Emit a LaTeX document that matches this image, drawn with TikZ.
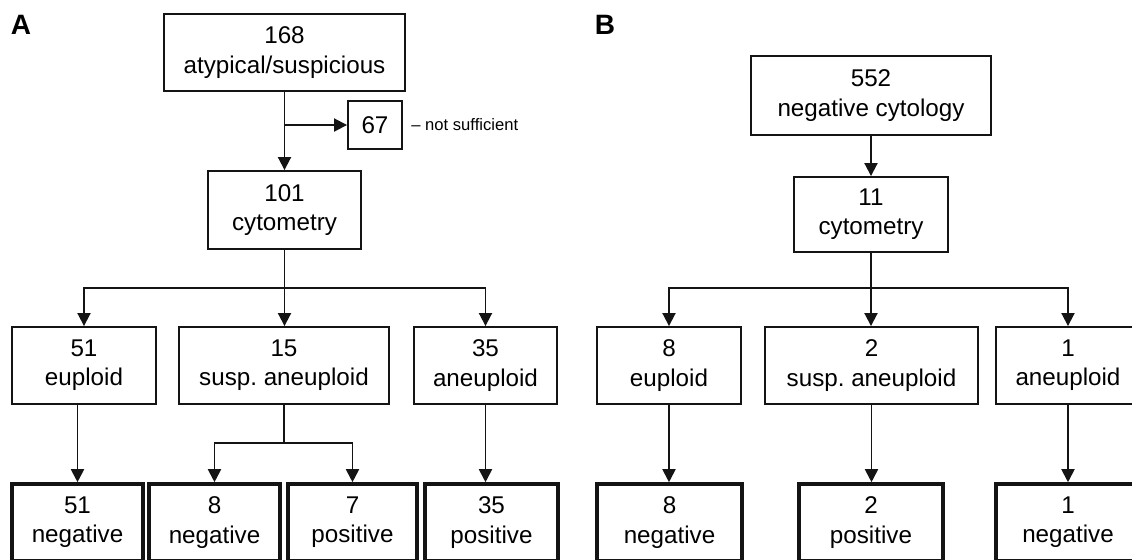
\documentclass[tikz,border=0pt]{standalone}
\usepackage{fontspec}
\setmainfont{Liberation Sans}
\usepackage{tikz}
\usetikzlibrary{arrows.meta}
\definecolor{frameblack}{RGB}{20,20,20}
\tikzset{
  box/.style={draw=frameblack,line width=0.95pt,inner sep=0pt,align=center,
    minimum height=38.5pt,font=\fontsize{12.1}{14.6}\selectfont},
  resultbox/.style={box,line width=1.8pt},
  conn/.style={draw=frameblack,line width=0.95pt,-{Triangle[width=6.5pt,length=6.5pt]}},
  link/.style={draw=frameblack,line width=0.95pt},
  panellabel/.style={inner sep=0pt,font=\fontsize{14}{16}\selectfont\bfseries},
  note/.style={inner sep=0pt,font=\fontsize{8.3}{10}\selectfont}
}
\frenchspacing

\begin{document}
\begin{tikzpicture}[x=0.5pt,y=-0.5pt]

  \useasboundingbox (0,0) rectangle (1132,559);
  \clip (0,0) rectangle (1132,559);

  % panel A
  \node[panellabel] (lblA) at (21,24.5) {A};
  \node[box,minimum width=120.5pt] (a168) at (284.5,52.5) {168\\atypical/suspicious};
  \node[box,minimum width=27pt,minimum height=24pt] (a67) at (375,125) {67};
  \node[note,anchor=west] (ansuff) at (411,125) {-- not sufficient};
  \node[box,minimum width=76.5pt,minimum height=39pt] (a101) at (284.5,210) {101\\cytometry};
  \node[box,minimum width=72pt] (aeu) at (84,365.5) {51\\euploid};
  \node[box,minimum width=105pt] (asusp) at (284,365.5) {15\\susp. aneuploid};
  \node[box,minimum width=71.5pt] (aan) at (485.5,365.5) {35\\aneuploid};
  \node[resultbox,minimum width=65.5pt] (aneg51) at (77.5,522.5) {51\\negative};
  \node[resultbox,minimum width=65.5pt] (aneg8) at (214.5,522.5) {8\\negative};
  \node[resultbox,minimum width=64.5pt] (apos7) at (352.5,522.5) {7\\positive};
  \node[resultbox,minimum width=66.5pt] (apos35) at (491.5,522.5) {35\\positive};

  \coordinate (a67in) at (a168.south |- a67.west);
  \coordinate (asplit) at (a101.south |- 0,288);
  \coordinate (asplitb) at (asusp.south |- 0,443);

  \draw[conn] (a168) -- (a101);
  \draw[conn] (a67in) -- (a67);
  \draw[conn] (a101.south) -- (a101.south |- asusp.north);
  \draw[conn] (asplit) -| (aeu);
  \draw[conn] (asplit) -| (aan);
  \draw[conn] (aneg51.north |- aeu.south) -- (aneg51);
  \draw[link] (asusp.south) -- (asplitb);
  \draw[conn] (asplitb) -| (aneg8);
  \draw[conn] (asplitb) -| (apos7);
  \draw[conn] (aan.south) -- (aan.south |- apos35.north);

  % panel B
  \node[panellabel] (lblB) at (605,24.5) {B};
  \node[box,minimum width=120pt,minimum height=39.5pt] (b552) at (871,95.5) {552\\negative cytology};
  \node[box,minimum width=77pt,minimum height=37.5pt] (b11) at (871,214.5) {11\\cytometry};
  \node[box,minimum width=72pt] (beu) at (669,365.5) {8\\euploid};
  \node[box,minimum width=106.5pt] (bsusp) at (871.5,365.5) {2\\susp. aneuploid};
  \node[box,minimum width=72pt] (ban) at (1068,365.5) {1\\aneuploid};
  \node[resultbox,minimum width=72.5pt] (bneg8) at (669.5,522.5) {8\\negative};
  \node[resultbox,minimum width=72pt] (bpos2) at (871,522.5) {2\\positive};
  \node[resultbox,minimum width=72pt] (bneg1) at (1068,522.5) {1\\negative};

  \coordinate (bsplit) at (b11.south |- 0,288);

  \draw[conn] (b552) -- (b11);
  \draw[conn] (b11.south) -- (b11.south |- bsusp.north);
  \draw[conn] (bsplit) -| (beu);
  \draw[conn] (bsplit) -| (ban);
  \draw[conn] (beu.south) -- (beu.south |- bneg8.north);
  \draw[conn] (bsusp.south) -- (bsusp.south |- bpos2.north);
  \draw[conn] (ban) -- (bneg1);
\end{tikzpicture}
\end{document}
